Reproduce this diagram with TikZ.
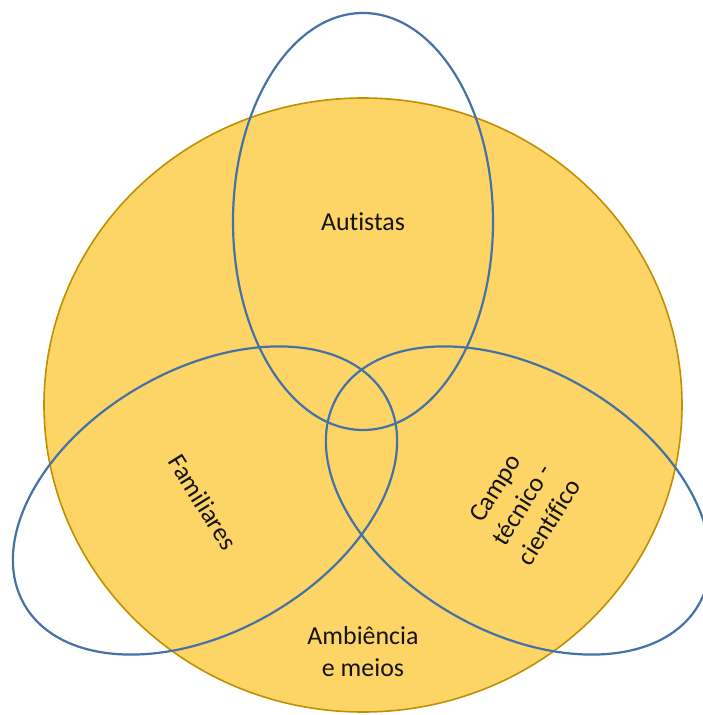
\documentclass[tikz,border=0pt]{standalone}
\usepackage{fontspec}
\setmainfont[Ligatures={NoCommon}]{Carlito}
\definecolor{gold}{HTML}{FDD466}
\definecolor{goldline}{HTML}{BF9000}
\definecolor{blueline}{HTML}{4472A6}
\definecolor{txt}{HTML}{141414}
\tikzset{
  bigset/.style={fill=gold, draw=goldline, line width=1.6bp},
  subset/.style={draw=blueline, line width=2.2bp},
  lbl/.style={text=txt, align=center, font=\fontsize{26}{32}\selectfont, inner sep=0pt}
}
\begin{document}
\begin{tikzpicture}[x=1bp,y=-1bp]
\useasboundingbox (0,0) rectangle (703,715);
% big circle
\coordinate (cc) at (363,405);
\draw[bigset] (cc) ellipse [x radius=319, y radius=307];
% ellipses
\coordinate (ct) at (363,221.5);
\coordinate (cl) at (205,500.5);
\coordinate (cr) at (518,500.5);
\draw[subset] (ct) ellipse [x radius=130, y radius=208.5];
\draw[subset, rotate around={30:(cl)}] (cl) ellipse [x radius=208.5, y radius=131];
\draw[subset, rotate around={-30:(cr)}] (cr) ellipse [x radius=208.5, y radius=131];
% labels
\node[lbl] (aut) at (363,222) {Autistas};
\node[lbl, rotate=-58] (fam) at (203,502) {Familiares};
\node[lbl, rotate=58] (cam) at (522,505) {Campo\\técnico -\\científico};
\node[lbl] (amb) at (363,652) {Ambiência\\e meios};
\end{tikzpicture}
\end{document}
